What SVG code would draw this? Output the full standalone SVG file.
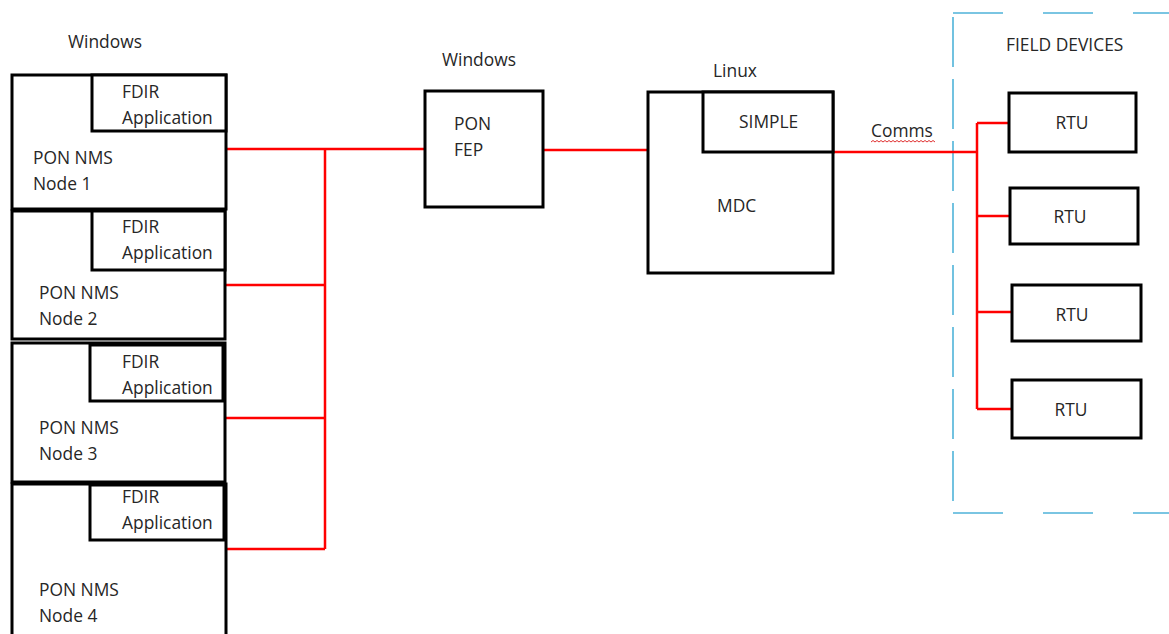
<svg xmlns="http://www.w3.org/2000/svg" width="1169" height="634" viewBox="0 0 1169 634">
<style>
.box{fill:#fff;stroke:#000;stroke-width:3}
.t{font-family:"Open Sans","Liberation Sans",sans-serif;font-size:17.4px;fill:#262626}
.tc{text-anchor:middle}
.red{stroke:#ff0000;stroke-width:2.5;fill:none}
.blue{stroke:#4fb3d9;stroke-width:1.6;fill:none}
</style>
<rect width="1169" height="634" fill="#fff"/>
<text class="t" x="68" y="48">Windows</text>
<text class="t" x="442" y="66">Windows</text>
<text class="t" x="713" y="77">Linux</text>
<g id="field-devices">
<path class="blue" d="M953,13 H1169 M953,513 H1169" stroke-dasharray="50 40"/>
<path class="blue" d="M953,17 V513" stroke-dasharray="50 12"/>
<text class="t" x="1006" y="51">FIELD DEVICES</text>
</g>
<g id="connectors">
<path class="red" d="M226,149 H425"/>
<path class="red" d="M325,149 V549"/>
<path class="red" d="M226,285 H325"/>
<path class="red" d="M226,418 H325"/>
<path class="red" d="M226,549 H325"/>
<path class="red" d="M543,150 H648"/>
<path class="red" d="M833,152 H977"/>
<path class="red" d="M977,123 V409"/>
<path class="red" d="M977,123 H1009"/>
<path class="red" d="M977,216 H1010"/>
<path class="red" d="M977,312 H1012"/>
<path class="red" d="M977,409 H1012"/>
<text class="t" x="871" y="137">Comms</text>
<path d="M871,142 l2,-1.5 l2,1.5 l2,-1.5 l2,1.5 l2,-1.5 l2,1.5 l2,-1.5 l2,1.5 l2,-1.5 l2,1.5 l2,-1.5 l2,1.5 l2,-1.5 l2,1.5 l2,-1.5 l2,1.5 l2,-1.5 l2,1.5 l2,-1.5 l2,1.5 l2,-1.5 l2,1.5 l2,-1.5 l2,1.5 l2,-1.5 l2,1.5 l2,-1.5 l2,1.5 l2,-1.5 l2,1.5 l2,-1.5 l2,1.5" stroke="#e03030" stroke-width="1" fill="none"/>
</g>
<g id="node1">
<rect class="box" x="12" y="75" width="214" height="134"/>
<rect class="box" x="92" y="75" width="134" height="56"/>
<text class="t" x="122" y="98">FDIR</text>
<text class="t" x="122" y="124">Application</text>
<text class="t" x="33" y="164">PON NMS</text>
<text class="t" x="33" y="190">Node 1</text>
</g>
<g id="node2">
<rect class="box" x="12" y="211" width="213" height="128"/>
<rect class="box" x="92" y="211" width="133" height="59"/>
<text class="t" x="122" y="233">FDIR</text>
<text class="t" x="122" y="259">Application</text>
<text class="t" x="39" y="299">PON NMS</text>
<text class="t" x="39" y="325">Node 2</text>
</g>
<g id="node3">
<rect class="box" x="12" y="343" width="213" height="139"/>
<rect class="box" x="90" y="345" width="133" height="56"/>
<text class="t" x="122" y="368">FDIR</text>
<text class="t" x="122" y="394">Application</text>
<text class="t" x="39" y="434">PON NMS</text>
<text class="t" x="39" y="460">Node 3</text>
</g>
<g id="node4">
<rect class="box" x="12" y="484" width="214" height="170"/>
<rect class="box" x="90" y="485" width="134" height="55"/>
<text class="t" x="122" y="503">FDIR</text>
<text class="t" x="122" y="529">Application</text>
<text class="t" x="39" y="596">PON NMS</text>
<text class="t" x="39" y="622">Node 4</text>
</g>
<g id="pon-fep">
<rect class="box" x="425" y="91" width="118" height="116"/>
<text class="t" x="454" y="130">PON</text>
<text class="t" x="454" y="156">FEP</text>
</g>
<g id="mdc">
<rect class="box" x="648" y="92" width="185" height="181"/>
<rect class="box" x="703" y="92" width="130" height="60"/>
<text class="t" x="739" y="128">SIMPLE</text>
<text class="t" x="717" y="212">MDC</text>
</g>
<g id="rtu1">
<rect class="box" x="1009" y="93" width="127" height="59"/>
<text class="t tc" x="1072" y="129">RTU</text>
</g>
<g id="rtu2">
<rect class="box" x="1010" y="188" width="128" height="56"/>
<text class="t tc" x="1070" y="223">RTU</text>
</g>
<g id="rtu3">
<rect class="box" x="1012" y="285" width="129" height="56"/>
<text class="t tc" x="1072" y="321">RTU</text>
</g>
<g id="rtu4">
<rect class="box" x="1012" y="380" width="129" height="58"/>
<text class="t tc" x="1071" y="416">RTU</text>
</g>
</svg>
